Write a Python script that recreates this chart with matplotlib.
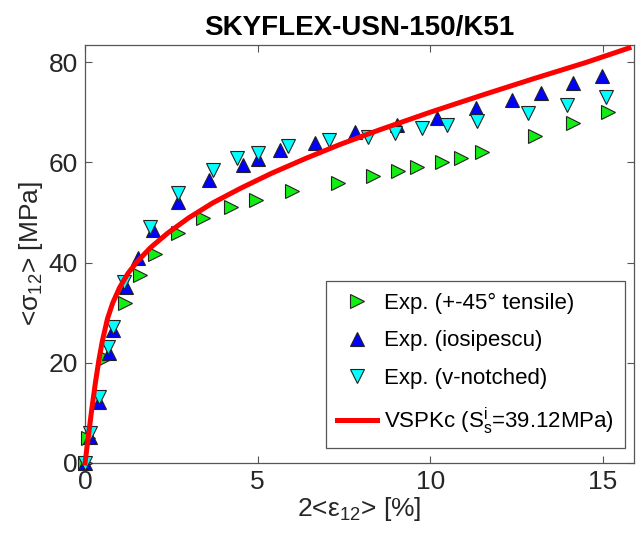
import matplotlib
matplotlib.use('Agg')
import matplotlib.pyplot as plt

plt.rcParams['font.family'] = ['Liberation Sans', 'DejaVu Sans']
plt.rcParams['mathtext.default'] = 'regular'

# +-45 tensile test (right triangles)
tens_x = [0, 0.1, 0.6, 1.15, 1.58, 2.04, 2.68, 3.43, 4.22, 4.96, 5.99, 7.32,
          8.33, 9.06, 9.6, 10.33, 10.9, 11.5, 13.03, 14.13, 15.15]
tens_y = [0, 5, 21, 32, 37.5, 41.7, 45.9, 48.8, 51.1, 52.5, 54.3, 55.9,
          57.3, 58.3, 59.0, 60.1, 60.9, 62.0, 65.3, 67.9, 70.0]

# iosipescu (up triangles)
ios_x = [0, 0.13, 0.39, 0.68, 0.8, 1.2, 1.52, 1.96, 2.68, 3.59, 4.57, 5.0,
         5.64, 6.65, 7.81, 9.03, 10.19, 11.33, 12.36, 13.2, 14.14, 14.98]
ios_y = [0, 5.2, 12.2, 22, 26.5, 35.1, 40.9, 46.5, 52.1, 56.5, 59.5, 60.7,
         62.5, 63.9, 66.0, 67.5, 68.9, 70.9, 72.5, 73.9, 75.8, 77.2]

# v-notched (down triangles)
vn_x = [0, 0.13, 0.39, 0.66, 0.8, 1.14, 1.87, 2.68, 3.7, 4.39, 5.0, 5.87,
        7.05, 8.2, 8.97, 9.75, 10.48, 11.36, 12.83, 13.96, 15.09]
vn_y = [0, 6, 13.2, 23.2, 27.2, 36.1, 47.1, 53.9, 58.5, 60.9, 61.9, 63.3,
        64.5, 65.1, 65.9, 66.9, 67.5, 68.3, 69.9, 71.5, 73.1]

# VSPKc model curve
model_x = [0, 0.1, 0.2, 0.3, 0.4, 0.5, 0.65, 0.8, 1.0, 1.25, 1.5, 1.9, 2.4,
           3.0, 3.7, 4.5, 5.4, 6.4, 7.4, 8.5, 10.0, 11.5, 13.0, 14.5, 15.75]
model_y = [0, 5.5, 11.0, 16.0, 20.5, 24.3, 28.8, 31.9, 35.0, 37.9, 40.1,
           43.0, 45.9, 48.9, 51.9, 54.8, 57.8, 60.8, 63.6, 66.4, 70.0, 73.4,
           76.7, 79.9, 82.8]

fig = plt.figure(figsize=(6.37, 5.35), dpi=100)
ax = fig.add_axes([0.1335, 0.1346, 0.862, 0.7813])

ms = 10
ax.plot(tens_x, tens_y, '>', ms=ms, mfc='#11ee11', mec='#222222', mew=0.8,
        ls='none', clip_on=False, label='Exp. (+-45° tensile)', zorder=3)
ax.plot(ios_x, ios_y, '^', ms=ms, mfc='#0000ff', mec='#222222', mew=0.8,
        ls='none', clip_on=False, label='Exp. (iosipescu)', zorder=3)
ax.plot(vn_x, vn_y, 'v', ms=ms, mfc='#00ffff', mec='#222222', mew=0.8,
        ls='none', clip_on=False, label='Exp. (v-notched)', zorder=3)
ax.plot(model_x, model_y, '-', color='#ff0000', lw=3.6, clip_on=False,
        label='VSPKc ($S_s^i$=39.12MPa)', zorder=4, solid_joinstyle='round')

ax.set_xlim(0, 15.9)
ax.set_ylim(0, 83.4)
ax.set_xticks([0, 5, 10, 15])
ax.set_yticks([0, 20, 40, 60, 80])
ax.tick_params(direction='in', top=True, right=True, length=5, labelsize=19,
               colors='#555555', labelcolor='#262626', pad=5)
for s in ax.spines.values():
    s.set_color('#555555')
    s.set_linewidth(0.9)

ax.set_xlabel('2<ε$_{12}$> [%]', fontsize=19, color='#262626', labelpad=1)
ax.set_ylabel('<σ$_{12}$> [MPa]', fontsize=19, color='#262626', labelpad=3)
ax.set_title('SKYFLEX-USN-150/K51', fontsize=20, fontweight='bold', pad=7)

leg = ax.legend(loc='lower right', bbox_to_anchor=(0.983, 0.036), fontsize=16,
                fancybox=False, framealpha=1, edgecolor='#555555',
                labelspacing=0.75, handlelength=1.8, handletextpad=0.3,
                borderpad=0.5, borderaxespad=0)
leg.get_frame().set_linewidth(0.9)

fig.savefig('out.png', dpi=100)
